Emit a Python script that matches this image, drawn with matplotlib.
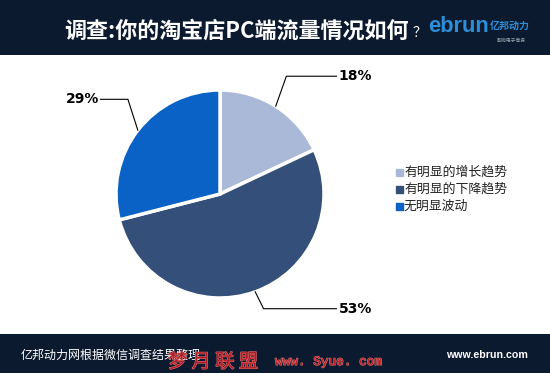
import numpy as np
import matplotlib
matplotlib.use("Agg")
import matplotlib.pyplot as plt
import matplotlib.patheffects as pe

plt.rcParams['font.family'] = ['Noto Sans CJK SC', 'DejaVu Sans']

categories = ["有明显的增长趋势", "有明显的下降趋势", "无明显波动"]
values = [18, 53, 29]
labels = ["18%", "53%", "29%"]
colors = ["#a9b9d7", "#34507a", "#0a62c6"]
title = "调查:你的淘宝店PC端流量情况如何"
source = "亿邦动力网根据微信调查结果整理"
site = "www.ebrun.com"

W, H = 550, 373
fig = plt.figure(figsize=(W / 100, H / 100), dpi=100)
fig.patch.set_facecolor("white")
renderer = fig.canvas.get_renderer()

def fx(x):
    return x / W

def fy(y):
    return 1 - y / H

def fit_text(x0, x1, y, s, size, **kw):
    t = fig.text(fx(x0), fy(y), s, fontsize=size, ha="left", va="center", **kw)
    w = t.get_window_extent(renderer).width
    t.set_fontsize(size * (x1 - x0) / w)
    return t

band = "#0c1a2f"
hdr = fig.add_axes([0, fy(55), 1, 55 / H])
hdr.set_facecolor(band); hdr.set_xticks([]); hdr.set_yticks([])
for s in hdr.spines.values(): s.set_visible(False)
ftr = fig.add_axes([0, 0, 1, (H - 334) / H])
ftr.set_facecolor(band); ftr.set_xticks([]); ftr.set_yticks([])
for s in ftr.spines.values(): s.set_visible(False)

fit_text(64, 410, 31, title, 14, color="white", fontweight="bold")
fig.text(fx(413), fy(33), "？", color="white", fontsize=10, ha="left", va="center")
fit_text(428, 489, 26, "ebrun", 14, color="#2a8fd8", fontweight="bold",
         family="Liberation Sans")
fit_text(490, 530, 26, "亿邦动力", 9, color="#2a8fd8", fontweight="bold")
fit_text(497, 526, 40, "影响电子商务", 4, color="#9aa4b0")

fit_text(21, 200, 355, source, 8.5, color="white")
fit_text(446, 528, 355, site, 8.5, color="white", fontweight="bold",
         family="Liberation Sans")

wm_fx = [pe.withStroke(linewidth=0.8, foreground="#e07070")]
fit_text(168, 258, 362, "梦 月 联 盟", 12, color="#b01c24", path_effects=wm_fx)
fit_text(275, 382, 362, "www. Syue. com", 12, color="#b01c24",
         family="Liberation Mono", path_effects=wm_fx)

# pie
cx, cy, r = 220, 194, 104
ax = fig.add_axes([fx(cx - r), fy(cy + r), 2 * r / W, 2 * r / H])
wedges, _ = ax.pie(values, colors=colors, startangle=90, counterclock=False,
                   radius=1, wedgeprops=dict(edgecolor="white", linewidth=2.5))
ax.set_xlim(-1, 1); ax.set_ylim(-1, 1)
ax.set_aspect("auto")
ax.axis("off")

elbow_r = [1.30, 1.18, 1.27]
elbow_shift = [3, 1, -8]   # degrees off the slice middle
line_end = [1.12, 1.12, -1.15]
for w, lab, er, sh, le in zip(wedges, labels, elbow_r, elbow_shift, line_end):
    mid = np.deg2rad((w.theta1 + w.theta2) / 2)
    x0, y0 = np.cos(mid), np.sin(mid)
    m2 = mid + np.deg2rad(sh)
    x1, y1 = er * np.cos(m2), er * np.sin(m2)
    ax.plot([x0, x1, le], [y0, y1, y1], color="black", lw=0.8, clip_on=False)
    if le > 0:
        ax.text(le + 0.02, y1, lab, ha="left", va="center", fontsize=10,
                fontweight="bold", family="DejaVu Sans", clip_on=False)
    else:
        ax.text(le - 0.01, y1, lab, ha="right", va="center", fontsize=10,
                fontweight="bold", family="DejaVu Sans", clip_on=False)

# legend
for i, (c, t) in enumerate(zip(colors, categories)):
    y = 172 + i * 17
    fig.patches.append(plt.Rectangle((fx(396), fy(y + 4)), 7 / W, 7 / H,
                                     transform=fig.transFigure, color=c))
    fig.text(fx(404), fy(y), t, fontsize=9.3, ha="left", va="center", color="#222222")

fig.savefig("out.png", dpi=100, facecolor="white")
